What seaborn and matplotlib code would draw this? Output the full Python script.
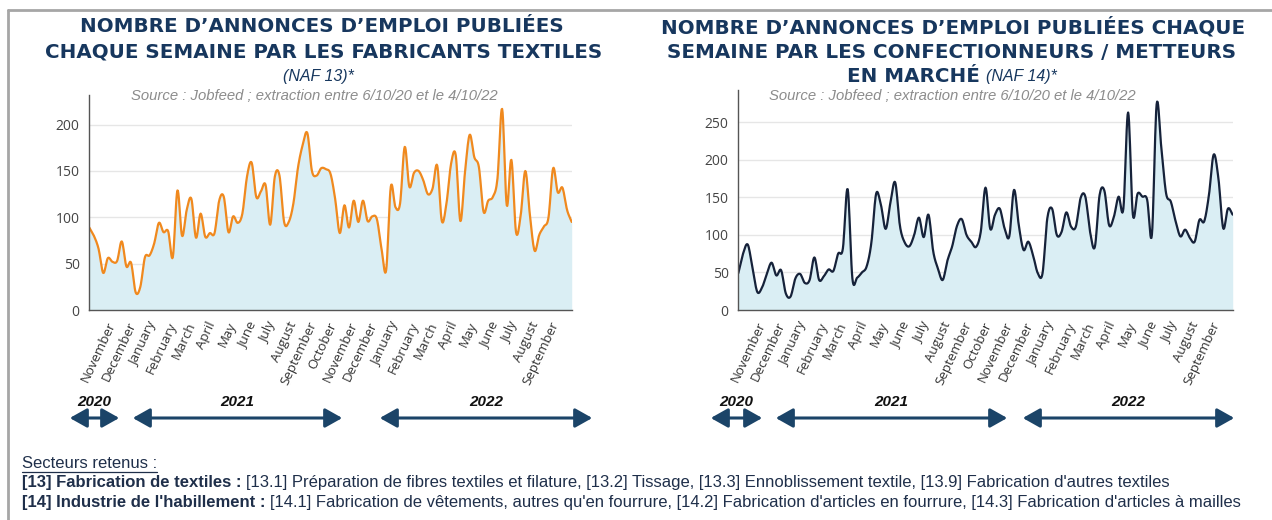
import numpy as np
import pandas as pd
import matplotlib
matplotlib.use("Agg")
import matplotlib.pyplot as plt
import matplotlib.dates as mdates
from matplotlib.lines import Line2D
from matplotlib.patches import FancyArrowPatch
import seaborn as sns

# weekly job-ad counts, 6/10/2020 -> 4/10/2022
start_date = "2020-10-06"
textile_jobs = [
    89, 80, 66, 40, 56, 52, 53, 74, 47, 51,
    19, 25, 57, 59, 72, 94, 84, 85, 57, 129,
    80, 108, 120, 78, 104, 79, 83, 83, 118, 122,
    84, 101, 94, 104, 144, 159, 122, 128, 135, 92,
    144, 145, 95, 95, 115, 154, 178, 191, 150, 145,
    153, 152, 147, 120, 83, 113, 89, 118, 95, 118,
    96, 101, 98, 66, 43, 133, 111, 115, 176, 133,
    148, 150, 140, 125, 131, 156, 96, 115, 158, 167,
    96, 149, 189, 165, 154, 106, 118, 122, 142, 217,
    113, 162, 84, 102, 150, 102, 64, 81, 90, 100,
    153, 127, 132, 108, 95,
]
apparel_jobs = [
    49, 75, 87, 55, 24, 30, 48, 63, 46, 53,
    22, 18, 42, 48, 36, 40, 70, 40, 45, 54,
    52, 75, 82, 161, 42, 43, 50, 58, 90, 155,
    140, 108, 143, 170, 112, 90, 85, 100, 123, 97,
    127, 78, 55, 40, 66, 85, 112, 121, 100, 91,
    84, 104, 163, 108, 127, 135, 109, 98, 160, 113,
    80, 91, 73, 49, 49, 122, 135, 100, 104, 130,
    111, 111, 149, 151, 104, 84, 153, 159, 113, 124,
    151, 135, 263, 127, 155, 151, 147, 100, 274, 215,
    155, 144, 118, 98, 107, 96, 91, 120, 118, 153,
    207, 175, 109, 135, 127,
]
year_labels = ["2020", "2021", "2022"]
month_ticks = pd.date_range("2020-11-01", "2022-09-01", freq="MS")
month_labels = [d.strftime("%B") for d in month_ticks]

dates = pd.date_range(start_date, periods=len(textile_jobs), freq="7D")

NAVY = "#17375E"
FILL = "#DAEEF4"
W, H = 1272, 520


def smooth(x, y, n=10):
    # cubic hermite through the weekly points, for a spline-like line
    x = np.asarray(x, float)
    y = np.asarray(y, float)
    m = np.gradient(y, x)
    xs, ys = [], []
    t = np.linspace(0, 1, n, endpoint=False)
    for i in range(len(x) - 1):
        h = x[i + 1] - x[i]
        h00 = 2 * t**3 - 3 * t**2 + 1
        h10 = t**3 - 2 * t**2 + t
        h01 = -2 * t**3 + 3 * t**2
        h11 = t**3 - t**2
        xs.append(x[i] + t * h)
        ys.append(h00 * y[i] + h10 * h * m[i] + h01 * y[i + 1] + h11 * h * m[i + 1])
    xs.append([x[-1]])
    ys.append([y[-1]])
    return np.concatenate(xs), np.clip(np.concatenate(ys), 0, None)


def draw_panel(ax, values, color, ymax, yticks):
    xnum = mdates.date2num(dates)
    xs, ys = smooth(xnum, values)
    curve = pd.DataFrame({"date": pd.to_datetime(xs, unit="D"), "value": ys})
    ax.fill_between(curve["date"], 0, curve["value"], color=FILL, lw=0)
    sns.lineplot(data=curve, x="date", y="value", color=color, lw=1.6, ax=ax)
    ax.set_xlim(dates[0], dates[-1])
    ax.set_ylim(0, ymax)
    ax.set_yticks(yticks)
    ax.set_xlabel("")
    ax.set_ylabel("")
    ax.grid(axis="y", color="#E6E6E6", lw=1)
    ax.set_axisbelow(True)
    for s in ["top", "right"]:
        ax.spines[s].set_visible(False)
    for s in ["left", "bottom"]:
        ax.spines[s].set_color("#555555")
        ax.spines[s].set_linewidth(1.0)
    ax.set_xticks(month_ticks)
    ax.set_xticklabels(month_labels, rotation=65, ha="right", rotation_mode="anchor",
                       family="Open Sans")
    ax.set_xticks([dates[0], dates[-1]], minor=True)
    ax.tick_params(axis="x", which="both", length=5, width=1, color="#555555",
                   labelsize=9.5, labelcolor="#333333", pad=2)
    ax.tick_params(axis="y", length=5, width=1, color="#555555",
                   labelsize=10, labelcolor="#444444", pad=2)
    for lab in ax.get_yticklabels():
        lab.set_fontfamily("Open Sans")


sns.set_theme(style="white")
plt.rcParams["font.family"] = ["DejaVu Sans"]

fig = plt.figure(figsize=(W / 100, H / 100), dpi=100)
ax1 = fig.add_axes([89.3 / W, 1 - 310 / H, (571.7 - 89.3) / W, (310 - 95) / H])
ax2 = fig.add_axes([738.3 / W, 1 - 310 / H, (1232.7 - 738.3) / W, (310 - 90) / H])

draw_panel(ax1, textile_jobs, "#F0891E", 232, [0, 50, 100, 150, 200])
draw_panel(ax2, apparel_jobs, "#16223A", 293, [0, 50, 100, 150, 200, 250])


def fx(px):
    return px / W


def fy(py):
    return 1 - py / H


renderer = fig.canvas.get_renderer()


def runs(x_px, y_px, pieces, ha="left"):
    # consecutive text pieces on one line, different styles
    objs = []
    for txt, kw in pieces:
        objs.append(fig.text(0, fy(y_px), txt, va="center", **kw))
    widths = [o.get_window_extent(renderer).width for o in objs]
    total = sum(widths)
    x = x_px - total / 2 if ha == "center" else x_px
    for o, w in zip(objs, widths):
        o.set_x(fx(x))
        x += w
    return objs


title_kw = dict(fontsize=14.3, fontweight="bold", color=NAVY, family="DejaVu Sans")
naf_kw = dict(fontsize=11.5, style="italic", color=NAVY, family="Liberation Sans")
src_kw = dict(fontsize=10.7, style="italic", color="#8C8C8C", family="Liberation Sans")

# left titles
fig.text(fx(322), fy(27), "NOMBRE D\u2019ANNONCES D\u2019EMPLOI PUBLIÉES", ha="center", va="center", **title_kw)
fig.text(fx(324), fy(52), "CHAQUE SEMAINE PAR LES FABRICANTS TEXTILES", ha="center", va="center", **title_kw)
fig.text(fx(318), fy(76), "(NAF 13)*", ha="center", va="center", **naf_kw)
fig.text(fx(314), fy(96), "Source : Jobfeed ; extraction entre 6/10/20 et le 4/10/22", ha="center", va="center", **src_kw)

# right titles
fig.text(fx(953), fy(27), "NOMBRE D\u2019ANNONCES D\u2019EMPLOI PUBLIÉES CHAQUE", ha="center", va="center", **title_kw)
fig.text(fx(952), fy(52), "SEMAINE PAR LES CONFECTIONNEURS / METTEURS", ha="center", va="center", **title_kw)
runs(952, 76, [("EN MARCHÉ ", title_kw), ("(NAF 14)*", naf_kw)], ha="center")
fig.text(fx(952), fy(96), "Source : Jobfeed ; extraction entre 6/10/20 et le 4/10/22", ha="center", va="center", **src_kw)

# year arrows under each month axis
arrow_spans = [
    [(67, 122), (130, 345), (377, 595)],
    [(708, 765), (773, 1010), (1020, 1237)],
]
for spans in arrow_spans:
    for year, (x0, x1) in zip(year_labels, spans):
        arr = FancyArrowPatch((fx(x0), fy(418)), (fx(x1), fy(418)), transform=fig.transFigure,
                              arrowstyle="<|-|>,head_length=0.8,head_width=0.45",
                              mutation_scale=13, color="#1B4468", lw=2.2)
        fig.add_artist(arr)
        fig.text(fx((x0 + x1) / 2), fy(402), year, ha="center", va="center", fontsize=11,
                 fontweight="bold", style="italic", color="#111111", family="Liberation Sans")

# sectors footnote
foot = ["Liberation Sans Narrow", "Liberation Sans"]
reg = dict(fontsize=12, color="#1F2F4A", family=foot)
bold = dict(fontsize=12, color="#1F2F4A", family=foot, fontweight="bold")
hdr = fig.text(fx(22), fy(463), "Secteurs retenus :", va="center", **reg)
bb = hdr.get_window_extent(renderer)
fig.add_artist(Line2D([fx(bb.x0), fx(bb.x1)], [(bb.y0 - 1) / H, (bb.y0 - 1) / H],
                      transform=fig.transFigure, color="#1F2F4A", lw=0.9))
runs(22, 483, [("[13] Fabrication de textiles : ", bold),
               ("[13.1] Préparation de fibres textiles et filature, [13.2] Tissage, "
                "[13.3] Ennoblissement textile, [13.9] Fabrication d'autres textiles", reg)])
runs(22, 503, [("[14] Industrie de l'habillement : ", bold),
               ("[14.1] Fabrication de vêtements, autres qu'en fourrure, [14.2] Fabrication "
                "d'articles en fourrure, [14.3] Fabrication d'articles à mailles", reg)])

# frame lines top and left
fig.add_artist(Line2D([fx(8), 1], [fy(10), fy(10)], transform=fig.transFigure, color="#A6A6A6", lw=2))
fig.add_artist(Line2D([fx(8), fx(8)], [fy(10), 0], transform=fig.transFigure, color="#A6A6A6", lw=2))

fig.savefig("out.png", dpi=100)
